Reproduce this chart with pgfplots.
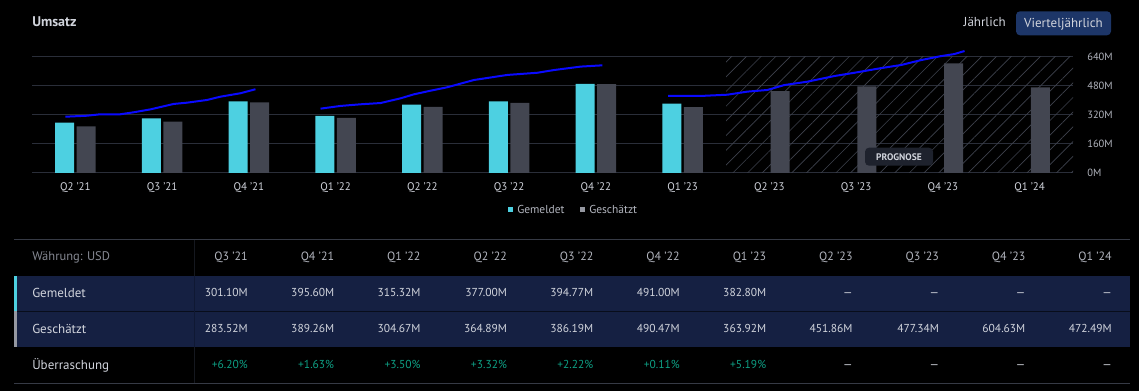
\documentclass[border=0pt]{standalone}
\usepackage{fontspec}
\setmainfont{PT Sans}
\usepackage{pgfplots}
\pgfplotsset{compat=1.18}
\usepackage{pgfplotstable}
\usetikzlibrary{patterns.meta}

\definecolor{cyanbar}{HTML}{4DD0E1}
\definecolor{graybar}{HTML}{434651}
\definecolor{gridc}{HTML}{2A2E39}
\definecolor{hatchc}{HTML}{3E424D}
\definecolor{lineblue}{HTML}{0A0AFF}
\definecolor{txt}{HTML}{D1D4DC}
\definecolor{txtdim}{HTML}{B2B5BE}
\definecolor{txtgray}{HTML}{868993}
\definecolor{band}{HTML}{152042}
\definecolor{btn}{HTML}{1D3668}
\definecolor{greenc}{HTML}{0E9F84}
\definecolor{tabline}{HTML}{363A45}
\definecolor{accgray}{HTML}{9598A1}
\definecolor{progbox}{HTML}{1E222D}
\definecolor{divhead}{HTML}{15181F}
\definecolor{divband}{HTML}{0F1833}

% px -> pt font size helper
\newcommand{\fpx}[1]{\fontsize{\fpxval{#1}}{\fpxval{#1}}\selectfont}
\newcommand{\fpxval}[1]{\dimexpr #1pt*3/4\relax}

\pgfplotstableread{
x rep est
0 278.00 257.00
1 301.10 283.52
2 395.60 389.26
3 315.32 304.67
4 377.00 364.89
5 394.77 386.19
6 491.00 490.47
7 382.80 363.92
}\reported

\pgfplotstableread{
x est
8 451.86
9 477.34
10 604.63
11 472.49
}\forecast

\pgfplotstableread{
x y
-0.115 310.6
0.135 316
0.288 324
0.519 324
0.673 335
0.865 351
1.134 381
1.288 388
1.519 403
1.672 421
1.903 440
2.076 462
}\segA

\pgfplotstableread{
x y
2.826 355
3.057 370
3.287 379
3.518 386
3.749 412
3.902 434
4.094 454
4.287 473
4.594 513
4.979 541
5.325 553
5.517 568
5.825 587
6.075 594
}\segB

\pgfplotstableread{
x y
6.832 425
7.209 425
7.517 432
7.747 449
7.977 458
8.170 485
8.440 504
8.750 535
8.980 553
9.280 578
9.520 596
9.750 623
9.980 645
10.130 656
10.250 673
}\segC

\begin{document}
\begin{tikzpicture}
\begin{scope}[x=0.75pt,y=-0.75pt]
  \fill[black] (0,0) rectangle (1139,391);
  % title and buttons
  \node[anchor=base west, inner sep=0, text=txt, font=\fpx{14}\bfseries] at (32,27) {Umsatz};
  \node[anchor=base east, inner sep=0, text=txt, font=\fpx{13}] at (1006,27) {Jährlich};
  \fill[btn, rounded corners=3pt] (1016,11.3) rectangle (1111,35.3);
  \node[anchor=base, inner sep=0, text=txt, font=\fpx{13}] at (1063.5,27.5) {Vierteljährlich};
\end{scope}

\begin{axis}[
  at={(24pt,-129.75pt)}, anchor=south west,
  scale only axis, width=780.75pt, height=95.16pt,
  xmin=-0.5, xmax=11.5, ymin=0, ymax=700,
  axis line style={draw=none},
  major tick length=0pt,
  xtick={0,...,11},
  xticklabels={Q2 '21,Q3 '21,Q4 '21,Q1 '22,Q2 '22,Q3 '22,Q4 '22,Q1 '23,Q2 '23,Q3 '23,Q4 '23,Q1 '24},
  xticklabel style={anchor=base, inner sep=0pt, yshift=-13.5pt, text=txt, font=\fpx{11}},
  ytick={0,160,320,480,640},
  yticklabels={0M,160M,320M,480M,640M},
  yticklabel pos=right,
  yticklabel style={anchor=west, inner sep=0pt, xshift=10.5pt, text=txtdim, font=\fpx{10.5}},
  ymajorgrids, grid style={gridc, line width=0.75pt},
  clip=false,
]
  \fill[pattern={Lines[angle=45,distance=7.8pt,line width=0.5pt]}, pattern color=hatchc]
     (axis cs:7.5,0) rectangle (axis cs:11.5,640);
  \addplot[ybar, bar width=0.219, bar shift=-0.124, fill=cyanbar, draw=none] table[x=x,y=rep] {\reported};
  \addplot[ybar, bar width=0.219, bar shift=0.124, fill=graybar, draw=none] table[x=x,y=est] {\reported};
  \addplot[ybar, bar width=0.219, bar shift=0.124, fill=graybar, draw=none] table[x=x,y=est] {\forecast};
  \addplot[lineblue, line width=1.5pt, line join=round] table[x=x,y=y] {\segA};
  \addplot[lineblue, line width=1.5pt, line join=round] table[x=x,y=y] {\segB};
  \addplot[lineblue, line width=1.5pt, line join=round] table[x=x,y=y] {\segC};
\end{axis}

\begin{scope}[x=0.75pt,y=-0.75pt]
  % PROGNOSE badge
  \fill[progbox, rounded corners=3pt] (865,147.7) rectangle (933,165.7);
  \node[inner sep=0, text=txt, font=\fpx{9.5}\bfseries] at (899,156.7) {PROGNOSE};
  % legend
  \fill[cyanbar] (508,207.5) rectangle (513,212.5);
  \node[anchor=base west, inner sep=0, text=txtdim, font=\fpx{11.5}] at (517,214) {Gemeldet};
  \fill[accgray] (580,207.5) rectangle (585,212.5);
  \node[anchor=base west, inner sep=0, text=txtdim, font=\fpx{11.5}] at (589,214) {Geschätzt};
  % table
  \draw[tabline, line width=0.75pt] (14,239.5) -- (1130,239.5);
  \fill[band] (14,276) rectangle (1130,347.3);
  \draw[black!60!band, line width=0.6pt] (17,311) -- (1130,311);
  \fill[cyanbar] (14,276) rectangle (17,311);
  \fill[accgray] (14,311) rectangle (17,347.3);
  \draw[tabline, line width=0.75pt] (14,383.3) -- (1130,383.3);
  \draw[divhead, line width=0.6pt] (194,240) -- (194,276);
  \draw[divband, line width=0.6pt] (194,276) -- (194,347.3);
  \draw[divhead, line width=0.6pt] (194,347.3) -- (194,383);
  \node[anchor=base west, inner sep=0, text=txtgray, font=\fpx{12.5}] at (32,261) {Währung: USD};
  \node[anchor=base west, inner sep=0, text=txt, font=\fpx{13}] at (32,297.5) {Gemeldet};
  \node[anchor=base west, inner sep=0, text=txt, font=\fpx{13}] at (32,333.5) {Geschätzt};
  \node[anchor=base west, inner sep=0, text=txt, font=\fpx{13}] at (32,369.5) {Überraschung};
  \foreach \t [count=\i from 0] in {Q3 '21,Q4 '21,Q1 '22,Q2 '22,Q3 '22,Q4 '22,Q1 '23,Q2 '23,Q3 '23,Q4 '23,Q1 '24}
    \node[anchor=base east, inner sep=0, text=txtdim, font=\fpx{12}] at ({248+86.4*\i},261) {\t};
  \foreach \t [count=\i from 0] in {301.10M,395.60M,315.32M,377.00M,394.77M,491.00M,382.80M,—,—,—,—}
    \node[anchor=base east, inner sep=0, text=txt, font=\fpx{11.5}] at ({248+86.4*\i},297) {\t};
  \foreach \t [count=\i from 0] in {283.52M,389.26M,304.67M,364.89M,386.19M,490.47M,363.92M,451.86M,477.34M,604.63M,472.49M}
    \node[anchor=base east, inner sep=0, text=txt, font=\fpx{11.5}] at ({248+86.4*\i},333) {\t};
  \foreach \t [count=\i from 0] in {+6.20\%,+1.63\%,+3.50\%,+3.32\%,+2.22\%,+0.11\%,+5.19\%}
    \node[anchor=base east, inner sep=0, text=greenc, font=\fpx{11.5}] at ({248+86.4*\i},369) {\t};
  \foreach \i in {7,8,9,10}
    \node[anchor=base east, inner sep=0, text=txt, font=\fpx{11.5}] at ({248+86.4*\i},369) {—};
\end{scope}
\end{tikzpicture}
\end{document}
